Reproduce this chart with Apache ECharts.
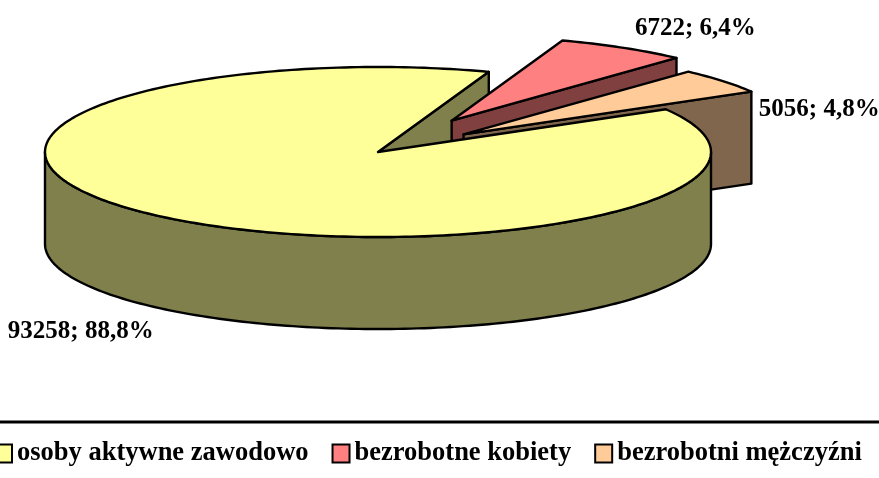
<!DOCTYPE html>
<html>
<head>
<meta charset="utf-8">
<script src="https://cdn.jsdelivr.net/npm/echarts@6/dist/echarts.min.js"></script>
<style>
  html, body { margin: 0; padding: 0; background: #fff; }
  #chart-container { width: 879px; height: 478px; }
</style>
</head>
<body>
<div id="chart-container"></div>
<script>
var categories = ["osoby aktywne zawodowo", "bezrobotne kobiety", "bezrobotni mężczyźni"];
var values = [93258, 6722, 5056];
var topColors = ["#FFFF99", "#FF8080", "#FFCC99"];
var sideColors = ["#80804C", "#804040", "#80664C"];

var total = values.reduce(function (a, b) { return a + b; }, 0);

// pie layout (3d look: ellipse + thickness)
var cx = 378, cy = 152, rx = 333, ry = 85, depth = 92;
var startAngle = -30.2 * Math.PI / 180;
var explode = [0, 0.43, 0.33];
var labelOffset = [[-12, 22], [12, -19], [36, 28]];
var labelFont = { fontFamily: '"Liberation Serif", "Times New Roman", serif', fontWeight: "bold", fontSize: 25 };

function percentText(v) {
  return (v / total * 100).toFixed(1).replace(".", ",") + "%";
}

function arc(ox, oy, t0, t1, dy) {
  var n = Math.max(2, Math.ceil(Math.abs(t1 - t0) / 0.02));
  var pts = [];
  for (var k = 0; k <= n; k++) {
    var t = t0 + (t1 - t0) * k / n;
    pts.push([cx + ox + rx * Math.cos(t), cy + oy + ry * Math.sin(t) + dy]);
  }
  return pts;
}

function sideFace(ox, oy, t) {
  var c = [cx + ox, cy + oy];
  var e = [cx + ox + rx * Math.cos(t), cy + oy + ry * Math.sin(t)];
  return [c, e, [e[0], e[1] + depth], [c[0], c[1] + depth]];
}

var lineStyle = { stroke: "#000", lineWidth: 2.4, lineJoin: "round" };

function renderSlice(i) {
  return function (params, api) {
    var before = 0;
    for (var j = 0; j < i; j++) before += values[j];
    var t0 = startAngle + before / total * Math.PI * 2;
    var t1 = t0 + api.value(0) / total * Math.PI * 2;
    var mid = (t0 + t1) / 2;
    var ox = explode[i] * rx * Math.cos(mid);
    var oy = explode[i] * ry * Math.sin(mid);
    // cut faces under all tops, ordered back to front by where they sit
    var rank = Math.round((Math.sin(mid) + 1) * 10);
    var side = sideColors[i];
    var children = [];

    [[t0, Math.cos(t0) < 0], [t1, Math.cos(t1) > 0]].forEach(function (f) {
      if (!f[1]) return;
      children.push({ type: "polygon", z2: Math.round((Math.sin(f[0]) + 1) * 10),
        shape: { points: sideFace(ox, oy, f[0]) },
        style: Object.assign({ fill: side }, lineStyle) });
    });
    // front outer wall
    [-2, 0, 2].forEach(function (k) {
      var w0 = Math.max(t0, k * Math.PI), w1 = Math.min(t1, k * Math.PI + Math.PI);
      if (w1 > w0) {
        var pts = arc(ox, oy, w0, w1, 0).concat(arc(ox, oy, w1, w0, depth));
        children.push({ type: "polygon", z2: 40 + rank * 2, shape: { points: pts },
          style: Object.assign({ fill: side }, lineStyle) });
      }
    });
    // top
    var top = [[cx + ox, cy + oy]].concat(arc(ox, oy, t0, t1, 0));
    children.push({ type: "polygon", z2: 41 + rank * 2, shape: { points: top },
      style: Object.assign({ fill: topColors[i] }, lineStyle) });

    // data label
    var ex = cx + ox + rx * Math.cos(mid);
    var ey = cy + oy + ry * Math.sin(mid) + (Math.sin(mid) > 0 ? depth : 0);
    children.push({
      type: "text", z2: 100,
      x: ex + labelOffset[i][0], y: ey + labelOffset[i][1],
      style: Object.assign({
        text: api.value(0) + "; " + percentText(api.value(0)),
        fill: "#000",
        align: Math.cos(mid) < 0 ? "right" : "left",
        verticalAlign: "middle"
      }, labelFont)
    });
    return { type: "group", children: children };
  };
}

var dom = document.getElementById("chart-container");
var myChart = echarts.init(dom, null, { renderer: "canvas" });

var option = {
  animation: false,
  legend: {
    data: categories,
    left: -6,
    top: 440,
    width: 960,
    padding: 0,
    icon: "rect",
    itemWidth: 17,
    itemHeight: 18,
    itemGap: 23,
    selectedMode: false,
    itemStyle: { borderColor: "#000", borderWidth: 2 },
    textStyle: {
      fontFamily: '"Liberation Serif", "Times New Roman", serif',
      fontWeight: "bold",
      fontSize: 26.5,
      color: "#000"
    }
  },
  graphic: [{
    type: "line",
    shape: { x1: 0, y1: 422, x2: 879, y2: 422 },
    style: { stroke: "#000", lineWidth: 3 }
  }],
  series: categories.map(function (name, i) {
    return {
      type: "custom",
      name: name,
      coordinateSystem: "none",
      itemStyle: { color: topColors[i] },
      renderItem: renderSlice(i),
      data: [values[i]]
    };
  })
};

myChart.setOption(option);
window.addEventListener("resize", myChart.resize);
</script>
</body>
</html>
